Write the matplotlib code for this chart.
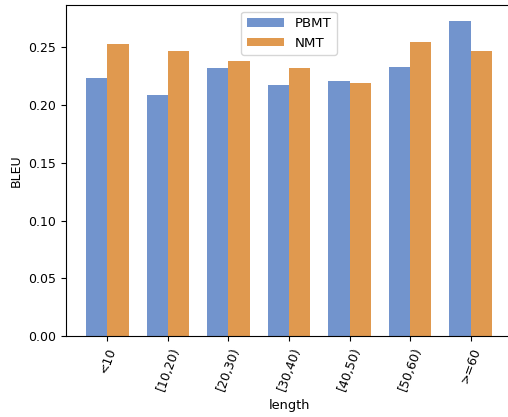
import numpy as np
import matplotlib
matplotlib.use('Agg')
import matplotlib.pyplot as plt

# BLEU by sentence length bucket
length_labels = ['<10', '[10,20)', '[20,30)', '[30,40)', '[40,50)', '[50,60)', '>=60']
pbmt_bleu = [0.223, 0.209, 0.232, 0.217, 0.221, 0.233, 0.273]
nmt_bleu = [0.253, 0.247, 0.238, 0.232, 0.219, 0.255, 0.247]

width = 0.35
x = np.arange(len(length_labels))

fig = plt.figure(figsize=(5.08, 4.17), dpi=100)
# axes runs slightly past the right edge, as in the cropped original
ax = fig.add_axes([66 / 508, 81 / 417, 446 / 508, 331 / 417])
ax.bar(x - width / 2, pbmt_bleu, width, color='#7294cd', label='PBMT')
ax.bar(x + width / 2, nmt_bleu, width, color='#e0994f', label='NMT')

ax.set_xticks(x)
ax.set_xticklabels(length_labels, rotation=70)
ax.tick_params(labelsize=9)
ax.set_xlabel('length', fontsize=9.3)
ax.set_ylabel('BLEU', fontsize=9)
ax.legend(loc='upper center', fontsize=9.6, handlelength=2.8, handleheight=0.6)

fig.savefig('out.png')
plt.close(fig)
